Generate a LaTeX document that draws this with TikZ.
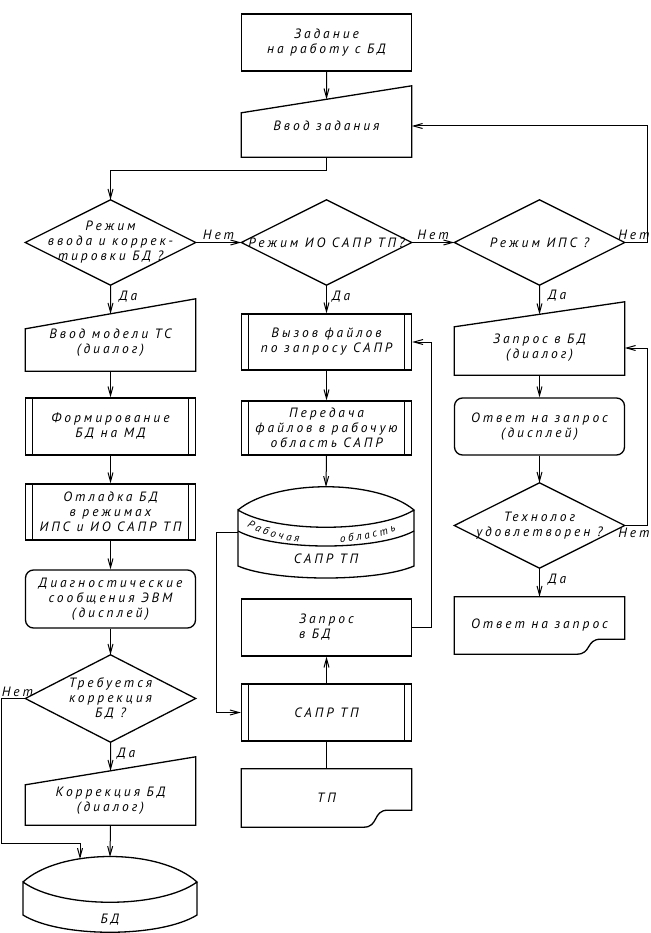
\documentclass[tikz,border=0pt]{standalone}
\usepackage{fontspec}
\setmainfont{PT Sans}[LetterSpace=22]
\usetikzlibrary{arrows.meta,calc,positioning,decorations.text}

\begin{document}
\begin{tikzpicture}[x=1pt, y=-1pt,
    shp/.style={line width=1.3pt},
    txt/.style={inner sep=0pt, align=center, font=\itshape\fontsize{13.5}{15}\selectfont},
    proc/.style={txt, draw, shp, minimum width=170pt},
    disp/.style={proc, rounded corners=8pt},
    outl/.style={txt, minimum width=170pt},
    lbl/.style={font=\itshape\fontsize{13.5}{15}\selectfont, inner sep=2pt},
    arr/.style={line width=1pt, -{Straight Barb[length=9pt,width=5pt]}},
    con/.style={line width=1pt},
    band/.style={decorate, decoration={text along path, text align=fit to path,
        text={|\itshape\fontsize{11}{12}\selectfont|#1}}}]
    \useasboundingbox (0,0) rectangle (650,933);

    % Middle column
    \node[proc, minimum height=57pt] (zad) at (326.5,42.5) {Задание\\на работу с БД};
    \node[outl, minimum height=62pt] (vvod) at (326.5,126) {Ввод задания};
    \node[outl, minimum height=85pt] (d2) at (326.5,242.5) {Режим ИО САПР ТП?};
    \node[proc, minimum height=56pt] (p3) at (326.5,342) {Вызов файлов\\по запросу САПР};
    \node[proc, minimum height=54pt] (p4) at (326.5,428) {Передача\\файлов в рабочую\\область САПР};
    \node[txt] (s2) at (326,559) {САПР ТП};
    \node[proc, minimum height=57pt, align=left] (b1) at (326.5,627.5) {Запрос\\в БД};
    \node[proc, minimum height=57pt] (p5) at (326.5,712.5) {САПР ТП};
    \node[outl, minimum height=58pt] (doc1) at (326.5,798) {ТП};

    % Left column
    \node[outl, minimum height=85pt] (d1) at (110.5,242.5) {Режим\\ввода и коррек-\\тировки БД ?};
    \node[outl, minimum height=56pt] (m1) at (110.5,343) {Ввод модели ТС\\(диалог)};
    \node[proc, minimum height=57pt] (p1) at (110.5,426.5) {Формирование\\БД на МД};
    \node[proc, minimum height=56pt] (p2) at (110.5,512) {Отладка БД\\в режимах\\ИПС и ИО САПР ТП};
    \node[disp, minimum height=58pt] (r1) at (110.5,599) {Диагностические\\сообщения ЭВМ\\(дисплей)};
    \node[outl, minimum height=87pt] (d4) at (110.5,698.5) {Требуется\\коррекция\\БД ?};
    \node[outl, minimum height=48pt] (m2) at (110.5,801) {Коррекция БД\\(диалог)};
    \node[txt] (s1) at (110,920) {БД};

    % Right column
    \node[outl, minimum height=85pt] (d3) at (539.5,242.5) {Режим ИПС ?};
    \node[outl, minimum height=54pt] (m3) at (539.5,348) {Запрос в БД\\(диалог)};
    \node[disp, minimum height=57pt] (r2) at (539.5,426.5) {Ответ на запрос\\(дисплей)};
    \node[outl, minimum height=85pt] (d5) at (539.5,525.5) {Технолог\\удовлетворен ?};
    \node[outl, minimum height=57pt] (doc2) at (539.5,625.5) {Ответ на запрос};

    % Outlines
    \foreach \n in {d1,d2,d3,d4,d5}
        \draw[shp] (\n.north) -- (\n.east) -- (\n.south) -- (\n.west) -- cycle;
    \foreach \n/\u/\d in {vvod/9/18, m1/16/14, m2/20/8, m3/19/6} {
        \draw[shp] ([yshift=\u pt]\n.north east) -- (\n.south east) -- (\n.south west)
            -- ([yshift=-\d pt]\n.north west) -- cycle;
        \coordinate (\n-top) at ($([yshift=-\d pt]\n.north west)!.5!([yshift=\u pt]\n.north east)$);
    }
    \foreach \n in {p1,p2,p3,p4,p5}
        \draw[line width=0.8pt] ([xshift=7.5pt]\n.north west) -- ([xshift=7.5pt]\n.south west)
            ([xshift=-7.5pt]\n.north east) -- ([xshift=-7.5pt]\n.south east);
    \foreach \n/\a in {doc1/17, doc2/15}
        \draw[shp] (\n.south west) -- (\n.north west) -- (\n.north east)
            -- ([yshift=\a pt]\n.south east) -- ([shift={(-24pt,\a pt)}]\n.south east)
            .. controls ([shift={(-39pt,\a pt)}]\n.south east) and ([shift={(-33pt,0pt)}]\n.south east)
            .. ([shift={(-48pt,0pt)}]\n.south east) -- cycle;

    % Storages
    \draw[shp] (23,882) .. controls (60,848) and (160,848) .. (197,882)
        .. controls (160,909) and (60,909) .. (23,882) -- (23,915)
        .. controls (60,938) and (160,938) .. (197,915) -- (197,882);
    \coordinate (s1top) at (110,857);
    \coordinate (s1n) at (80,859);
    \draw[shp] (238,510) .. controls (275,479) and (377,479) .. (414,510)
        .. controls (377,533) and (275,533) .. (238,510) -- (238,566)
        .. controls (275,582) and (377,582) .. (414,566) -- (414,510);
    \draw[shp] (238,531) .. controls (275,551) and (377,551) .. (414,531);
    \path[band=Рабочая] (247,526) .. controls (262,535) and (280,540) .. (299,542);
    \path[band=область] (340,542) .. controls (358,542) and (377,538) .. (396,531);
    \coordinate (s2top) at (326,487);
    \coordinate (s2w) at (238,532);

    % Connectors
    \draw[arr] (zad.south) -- (vvod-top);
    \draw[arr] (vvod.south) -- ++(0,13) -| (d1.north);
    \draw[arr] (d1.east) -- node[lbl, above] {Нет} (d2.west);
    \draw[arr] (d2.east) -- node[lbl, above] {Нет} (d3.west);
    \draw[arr] (d3.east) -- node[lbl, above, pos=.4] {Нет} ++(23,0) |- (vvod.east);

    \draw[arr] (d1.south) -- node[lbl, right, pos=.4, xshift=6pt] {Да} (m1-top);
    \draw[arr] (m1.south) -- (p1.north);
    \draw[arr] (p1.south) -- (p2.north);
    \draw[arr] (p2.south) -- (r1.north);
    \draw[arr] (r1.south) -- (d4.north);
    \draw[arr] (d4.south) -- node[lbl, right, pos=.4, xshift=4pt] {Да} (m2-top);
    \draw[arr] (m2.south) -- (s1top);
    \draw[arr] (d4.west) -- ++(-24,0) node[lbl, above right, inner sep=1pt, xshift=-1pt] {Нет}
        |- ([yshift=16pt]s1n) -- (s1n);

    \draw[arr] (d2.south) -- node[lbl, right, pos=.4, xshift=3pt] {Да} (p3.north);
    \draw[arr] (p3.south) -- (p4.north);
    \draw[arr] (p4.south) -- (s2top);
    \draw[arr] (s2w) -- ++(-22,0) |- (p5.west);
    \draw[arr] (p5.north) -- (b1.south);
    \draw[arr] (b1.east) -- ++(19,0) |- (p3.east);
    \draw[con] (p5.south) -- (doc1.north);

    \draw[arr] (d3.south) -- node[lbl, right, pos=.35, xshift=6pt] {Да} (m3-top);
    \draw[arr] (m3.south) -- (r2.north);
    \draw[arr] (r2.south) -- (d5.north);
    \draw[arr] (d5.south) -- node[lbl, right, pos=.4, xshift=6pt] {Да} (doc2.north);
    \draw[arr] (d5.east) -- node[lbl, below, pos=.4] {Нет} ++(23,0) |- (m3.east);
\end{tikzpicture}
\end{document}
